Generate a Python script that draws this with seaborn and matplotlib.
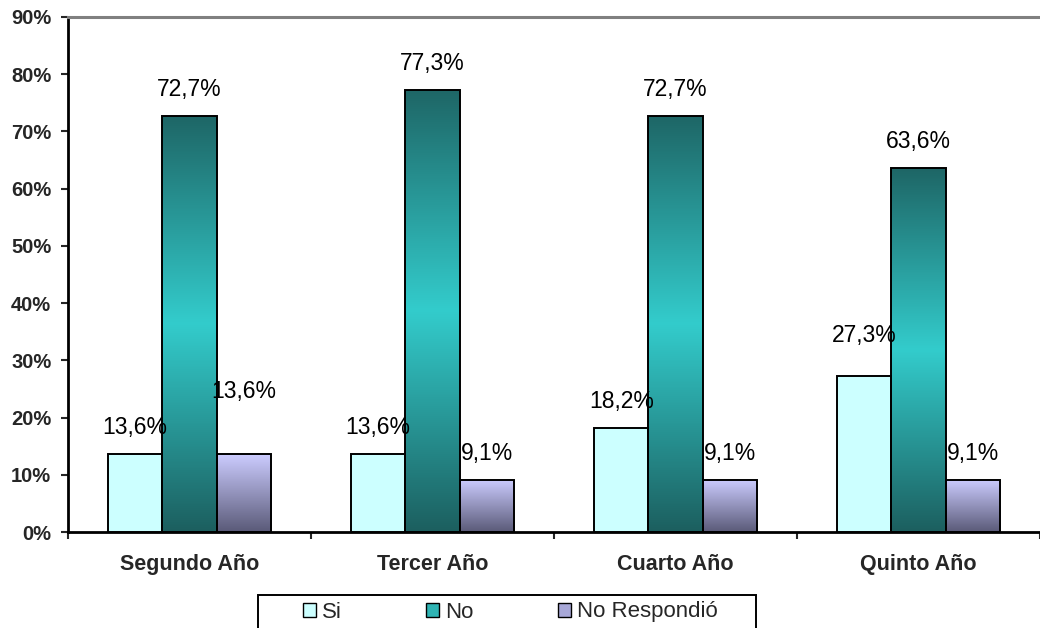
import numpy as np
import pandas as pd
import matplotlib
matplotlib.use("Agg")
import matplotlib.pyplot as plt
from matplotlib.colors import LinearSegmentedColormap
from matplotlib.patches import Patch, Rectangle
import seaborn as sns

# ------------------------------------------------------------------
# data
# ------------------------------------------------------------------
categories = ["Segundo Año", "Tercer Año", "Cuarto Año", "Quinto Año"]
series = ["Si", "No", "No Respondió"]
si_vals = [13.6, 13.6, 18.2, 27.3]
no_vals = [72.7, 77.3, 72.7, 63.6]
nr_vals = [13.6, 9.1, 9.1, 9.1]
y_ticks = [0, 10, 20, 30, 40, 50, 60, 70, 80, 90]

# extra lift (points) Excel gave to a few labels to dodge the tall bars
extra_lift = {("No Respondió", 0): 26, ("Si", 3): 10}

df = pd.DataFrame({
    "cat": categories * 3,
    "serie": [s for s in series for _ in categories],
    "val": si_vals + no_vals + nr_vals,
})

sns.set_style("white")
plt.rcParams["font.family"] = ["Liberation Sans", "DejaVu Sans"]

fig = plt.figure(figsize=(10.4, 6.28), dpi=100)
ax = fig.add_axes([68 / 1040, 96 / 628, 1 - 68 / 1040, (532 - 17) / 628])

flat = {"Si": "#ccffff", "No": "#2fb4b4", "No Respondió": "#a8a8d8"}
sns.barplot(data=df, x="cat", y="val", hue="serie", hue_order=series, order=categories,
            palette=flat, saturation=1, width=0.67, gap=0, edgecolor="black", linewidth=1.4,
            legend=False, ax=ax, zorder=3)

# gradient fills
cm_no = LinearSegmentedColormap.from_list("no", ["#1c5f5f", "#33cccc", "#1e6666"])
cm_nr = LinearSegmentedColormap.from_list("nr", ["#5a5a78", "#ccccff"])
grad = np.linspace(0, 1, 256).reshape(-1, 1)
for cont, name in zip(ax.containers, series):
    cmap = {"No": cm_no, "No Respondió": cm_nr}.get(name)
    for i, bar in enumerate(cont):
        x0, w, h = bar.get_x(), bar.get_width(), bar.get_height()
        if cmap is not None:
            im = ax.imshow(grad, cmap=cmap, origin="lower", aspect="auto",
                           extent=[x0, x0 + w, 0, h], zorder=2.9)
            im.set_clip_path(bar)
            bar.set_facecolor("none")
        lift = 19 + extra_lift.get((name, i), 0)
        ax.annotate(f"{h:.1f}%".replace(".", ","), (x0 + w / 2, h),
                    xytext=(0, lift), textcoords="offset points",
                    ha="center", va="center", fontsize=16.5, color="black")

ax.set_xlim(-0.5, 3.5)
ax.set_ylim(0, 90)

# axes styling
ax.set_yticks(y_ticks)
ax.set_yticklabels([f"{t}%" for t in y_ticks], fontsize=14.5, fontweight="bold")
ax.set_xticks(range(len(categories)))
ax.set_xticklabels(categories, fontsize=15.5, fontweight="bold")
ax.set_xticks(np.arange(-0.5, 3.6, 1), minor=True)
ax.tick_params(axis="x", which="major", length=0, pad=15.5)
ax.tick_params(axis="x", which="minor", length=5, width=1.5, direction="out", bottom=True)
ax.tick_params(axis="y", length=5, width=1.5, direction="out", left=True, pad=7)
ax.set_xlabel("")
ax.set_ylabel("")

for side in ["left", "bottom"]:
    ax.spines[side].set_color("black")
    ax.spines[side].set_linewidth(2)
ax.spines["top"].set_color("#808080")
ax.spines["top"].set_linewidth(2.2)
ax.spines["right"].set_visible(False)

# legend (box drawn separately: Excel pads it wider than it is tall)
handles = [Patch(facecolor=flat[s], edgecolor="black", linewidth=1) for s in series]
fig.legend(handles, series, loc="center", bbox_to_anchor=(510 / 1040, 16 / 628),
           ncol=3, fontsize=16, frameon=False,
           handlelength=0.6, handleheight=0.6, handletextpad=0.25,
           columnspacing=3.8, borderpad=0, borderaxespad=0)
fig.patches.append(Rectangle((258 / 1040, -0.02), (756 - 258) / 1040, (628 - 595) / 628 + 0.02,
                             transform=fig.transFigure, fill=False, edgecolor="black",
                             linewidth=1.4))

fig.savefig("out.png", dpi=100)
